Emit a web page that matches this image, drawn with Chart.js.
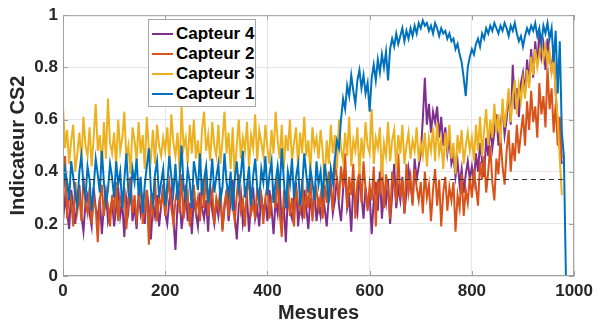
<!DOCTYPE html>
<html lang="fr">
<head>
<meta charset="utf-8">
<script src="https://cdn.jsdelivr.net/npm/chart.js@4.4.1/dist/chart.umd.min.js"></script>
<style>
    body { margin: 0; background: #fff; }
    #zone { position: relative; width: 598px; height: 329px; }
    #legende {
        position: absolute; left: 148px; top: 19px; width: 106px; height: 86px;
        border: 1px solid #a6a6a6; background: #fff;
        font: bold 17px "Liberation Sans", Arial, sans-serif; color: #000;
    }
    .item { position: absolute; left: 3px; height: 20px; line-height: 20px; white-space: nowrap; }
    .item span.trait { position: absolute; left: 0; top: 9px; width: 21px; height: 2px; }
    .item span.nom { position: absolute; left: 24px; top: 0; }
</style>
</head>
<body>
<div id="zone">
    <canvas id="graphique" width="598" height="329"></canvas>
    <div id="legende"></div>
</div>
<script>
const pasMesure = 4;

// Capteur 1 (bleu) - mesures 0 à 984
const capteur1 = [
    0.33, 0.41, 0.36, 0.29, 0.44, 0.38, 0.31, 0.27, 0.40, 0.46, 0.35, 0.30, 0.42, 0.37, 0.25, 0.34, 0.45, 0.39, 0.32, 0.48, 0.36, 0.28, 0.33, 0.43, 0.38,
    0.30, 0.44, 0.35, 0.40, 0.26, 0.37, 0.47, 0.32, 0.29, 0.41, 0.36, 0.45, 0.31, 0.38, 0.24, 0.35, 0.42, 0.49, 0.33, 0.28, 0.39, 0.44, 0.30, 0.36, 0.41,
    0.27, 0.35, 0.46, 0.38, 0.32, 0.43, 0.29, 0.37, 0.50, 0.34, 0.30, 0.41, 0.36, 0.26, 0.44, 0.39, 0.33, 0.47, 0.31, 0.37, 0.42, 0.28, 0.35, 0.45, 0.32,
    0.38, 0.43, 0.29, 0.34, 0.47, 0.36, 0.31, 0.40, 0.25, 0.37, 0.44, 0.33, 0.39, 0.48, 0.30, 0.35, 0.42, 0.27, 0.38, 0.45, 0.34, 0.29, 0.41, 0.36, 0.46,
    0.31, 0.39, 0.44, 0.28, 0.36, 0.42, 0.33, 0.49, 0.37, 0.26, 0.40, 0.35, 0.45, 0.30, 0.38, 0.43, 0.27, 0.34, 0.47, 0.39, 0.32, 0.41, 0.36, 0.29, 0.44,
    0.35, 0.40, 0.30, 0.43, 0.37, 0.28, 0.41, 0.36, 0.45, 0.52, 0.49, 0.60, 0.68, 0.64, 0.73, 0.69, 0.77, 0.71, 0.66, 0.75, 0.79, 0.72, 0.77, 0.70, 0.74,
    0.63, 0.76, 0.81, 0.75, 0.83, 0.78, 0.85, 0.80, 0.86, 0.75, 0.87, 0.91, 0.88, 0.93, 0.89, 0.92, 0.95, 0.90, 0.94, 0.91, 0.95, 0.92, 0.96, 0.93, 0.97,
    0.95, 0.98, 0.96, 0.97, 0.94, 0.96, 0.93, 0.97, 0.95, 0.92, 0.95, 0.93, 0.94, 0.91, 0.93, 0.90, 0.91, 0.87, 0.89, 0.85, 0.82, 0.76, 0.69, 0.80, 0.84,
    0.87, 0.85, 0.89, 0.91, 0.88, 0.93, 0.91, 0.95, 0.93, 0.96, 0.94, 0.97, 0.95, 0.93, 0.96, 0.94, 0.97, 0.95, 0.92, 0.96, 0.94, 0.97, 0.93, 0.90, 0.92,
    0.88, 0.92, 0.95, 0.93, 0.96, 0.94, 0.97, 0.92, 0.95, 0.89, 0.96, 0.93, 0.97, 0.91, 0.95, 0.82, 0.94, 0.70, 0.90, 0.55, 0.46, 0.00
];

// Capteur 2 (orange) - mesures 0 à 976
const capteur2 = [
    0.27, 0.46, 0.22, 0.33, 0.29, 0.19, 0.36, 0.25, 0.31, 0.21, 0.38, 0.28, 0.24, 0.34, 0.20, 0.30, 0.26, 0.13, 0.29, 0.35, 0.23, 0.32, 0.27, 0.19, 0.31,
    0.25, 0.36, 0.21, 0.30, 0.27, 0.34, 0.18, 0.29, 0.38, 0.24, 0.31, 0.22, 0.28, 0.35, 0.20, 0.26, 0.33, 0.12, 0.29, 0.24, 0.37, 0.21, 0.30, 0.27, 0.33,
    0.23, 0.31, 0.36, 0.26, 0.20, 0.29, 0.34, 0.24, 0.39, 0.22, 0.28, 0.32, 0.19, 0.27, 0.35, 0.25, 0.30, 0.21, 0.37, 0.26, 0.41, 0.23, 0.29, 0.33, 0.20,
    0.30, 0.26, 0.34, 0.17, 0.28, 0.32, 0.23, 0.37, 0.27, 0.21, 0.31, 0.39, 0.25, 0.29, 0.19, 0.33, 0.36, 0.24, 0.28, 0.22, 0.34, 0.27, 0.31, 0.20, 0.30,
    0.35, 0.22, 0.29, 0.33, 0.26, 0.38, 0.24, 0.15, 0.31, 0.27, 0.36, 0.23, 0.30, 0.19, 0.34, 0.28, 0.25, 0.37, 0.22, 0.32, 0.26, 0.39, 0.21, 0.29, 0.33,
    0.26, 0.31, 0.22, 0.35, 0.28, 0.40, 0.33, 0.25, 0.45, 0.37, 0.29, 0.42, 0.34, 0.47, 0.26, 0.38, 0.31, 0.43, 0.22, 0.36, 0.40, 0.28, 0.44, 0.33, 0.25,
    0.35, 0.29, 0.42, 0.19, 0.37, 0.31, 0.45, 0.26, 0.39, 0.33, 0.22, 0.40, 0.35, 0.28, 0.47, 0.30, 0.37, 0.24, 0.43, 0.32, 0.38, 0.27, 0.41, 0.34, 0.29,
    0.36, 0.24, 0.40, 0.30, 0.35, 0.21, 0.33, 0.41, 0.27, 0.37, 0.19, 0.32, 0.38, 0.25, 0.34, 0.29, 0.36, 0.17, 0.31, 0.26, 0.39, 0.23, 0.33, 0.28, 0.38,
    0.30, 0.41, 0.34, 0.27, 0.44, 0.37, 0.46, 0.32, 0.40, 0.50, 0.36, 0.29, 0.45, 0.39, 0.53, 0.42, 0.35, 0.48, 0.56, 0.40, 0.51, 0.44, 0.58, 0.47, 0.55,
    0.62, 0.50, 0.67, 0.56, 0.71, 0.59, 0.65, 0.53, 0.74, 0.62, 0.69, 0.57, 0.80, 0.64, 0.72, 0.55, 0.66, 0.50, 0.61, 0.45
];

// Capteur 3 (jaune) - mesures 0 à 976
const capteur3 = [
    0.65, 0.49, 0.56, 0.43, 0.52, 0.58, 0.40, 0.47, 0.55, 0.44, 0.61, 0.50, 0.46, 0.57, 0.42, 0.53, 0.66, 0.48, 0.54, 0.41, 0.59, 0.45, 0.68, 0.51, 0.47,
    0.55, 0.42, 0.60, 0.48, 0.53, 0.63, 0.45, 0.50, 0.39, 0.57, 0.52, 0.44, 0.59, 0.47, 0.54, 0.41, 0.61, 0.49, 0.45, 0.56, 0.43, 0.58, 0.50, 0.46, 0.53,
    0.48, 0.57, 0.44, 0.62, 0.51, 0.46, 0.55, 0.40, 0.65, 0.49, 0.53, 0.43, 0.58, 0.47, 0.60, 0.45, 0.52, 0.41, 0.56, 0.63, 0.48, 0.54, 0.44, 0.59, 0.50,
    0.46, 0.58, 0.43, 0.52, 0.63, 0.47, 0.55, 0.41, 0.57, 0.38, 0.50, 0.60, 0.45, 0.53, 0.48, 0.59, 0.42, 0.54, 0.49, 0.62, 0.44, 0.56, 0.51, 0.46, 0.58,
    0.49, 0.43, 0.56, 0.47, 0.63, 0.52, 0.45, 0.58, 0.41, 0.54, 0.48, 0.60, 0.44, 0.51, 0.57, 0.42, 0.55, 0.47, 0.61, 0.46, 0.52, 0.40, 0.57, 0.49, 0.53,
    0.45, 0.56, 0.48, 0.35, 0.52, 0.43, 0.58, 0.47, 0.54, 0.41, 0.60, 0.49, 0.44, 0.55, 0.46, 0.61, 0.42, 0.52, 0.48, 0.57, 0.39, 0.53, 0.45, 0.59, 0.50,
    0.47, 0.64, 0.43, 0.53, 0.49, 0.57, 0.38, 0.51, 0.46, 0.59, 0.44, 0.52, 0.56, 0.41, 0.54, 0.47, 0.58, 0.43, 0.50, 0.55, 0.45, 0.52, 0.48, 0.57, 0.44,
    0.51, 0.46, 0.55, 0.42, 0.53, 0.48, 0.57, 0.44, 0.59, 0.47, 0.52, 0.41, 0.55, 0.49, 0.58, 0.45, 0.51, 0.39, 0.54, 0.47, 0.56, 0.43, 0.50, 0.55, 0.48,
    0.53, 0.44, 0.58, 0.48, 0.61, 0.46, 0.56, 0.64, 0.50, 0.60, 0.53, 0.66, 0.55, 0.62, 0.51, 0.68, 0.57, 0.64, 0.72, 0.59, 0.69, 0.75, 0.62, 0.73, 0.67,
    0.75, 0.68, 0.79, 0.72, 0.84, 0.77, 0.87, 0.80, 0.85, 0.90, 0.83, 0.88, 0.81, 0.86, 0.78, 0.83, 0.70, 0.60, 0.45, 0.31
];

// Capteur 4 (violet) - mesures 0 à 976
const capteur4 = [
    0.21, 0.30, 0.25, 0.18, 0.33, 0.27, 0.20, 0.29, 0.35, 0.23, 0.17, 0.28, 0.31, 0.24, 0.19, 0.34, 0.26, 0.22, 0.30, 0.16, 0.27, 0.32, 0.21, 0.25, 0.29,
    0.19, 0.26, 0.34, 0.23, 0.28, 0.15, 0.30, 0.25, 0.36, 0.21, 0.27, 0.18, 0.32, 0.24, 0.29, 0.20, 0.33, 0.26, 0.14, 0.28, 0.23, 0.31, 0.19, 0.27, 0.35,
    0.24, 0.20, 0.29, 0.33, 0.22, 0.10, 0.27, 0.31, 0.18, 0.25, 0.35, 0.21, 0.28, 0.16, 0.30, 0.24, 0.19, 0.32, 0.26, 0.22, 0.29, 0.17, 0.34, 0.25, 0.20,
    0.28, 0.23, 0.31, 0.18, 0.26, 0.33, 0.21, 0.29, 0.37, 0.24, 0.14, 0.27, 0.32, 0.20, 0.25, 0.30, 0.17, 0.28, 0.34, 0.22, 0.26, 0.19, 0.31, 0.24, 0.29,
    0.21, 0.33, 0.26, 0.16, 0.29, 0.24, 0.35, 0.20, 0.27, 0.13, 0.31, 0.25, 0.22, 0.30, 0.36, 0.19, 0.28, 0.23, 0.33, 0.26, 0.18, 0.30, 0.24, 0.34, 0.21,
    0.28, 0.23, 0.32, 0.26, 0.19, 0.30, 0.35, 0.24, 0.29, 0.38, 0.27, 0.21, 0.33, 0.41, 0.26, 0.30, 0.17, 0.35, 0.28, 0.24, 0.39, 0.31, 0.22, 0.34, 0.27,
    0.31, 0.16, 0.29, 0.36, 0.25, 0.40, 0.22, 0.33, 0.28, 0.37, 0.20, 0.31, 0.43, 0.26, 0.34, 0.29, 0.38, 0.24, 0.32, 0.41, 0.35, 0.28, 0.45, 0.37, 0.42,
    0.47, 0.60, 0.76, 0.58, 0.66, 0.55, 0.63, 0.59, 0.65, 0.53, 0.61, 0.50, 0.57, 0.47, 0.53, 0.43, 0.46, 0.38, 0.44, 0.35, 0.41, 0.32, 0.39, 0.44, 0.37,
    0.42, 0.36, 0.47, 0.40, 0.51, 0.44, 0.38, 0.53, 0.46, 0.58, 0.49, 0.55, 0.62, 0.50, 0.57, 0.65, 0.54, 0.60, 0.70, 0.58, 0.81, 0.64, 0.72, 0.61, 0.74,
    0.78, 0.70, 0.83, 0.74, 0.87, 0.76, 0.90, 0.81, 0.93, 0.84, 0.89, 0.79, 0.91, 0.85, 0.78, 0.88, 0.70, 0.58, 0.49, 0.43
];

// ligne de seuil en pointillés
const seuil = 0.37;
const seuilDebut = 0;
const seuilFin = 980;

const ticksX = [0, 200, 400, 600, 800, 1000];
const ticksY = [0, 0.2, 0.4, 0.6, 0.8, 1];

// ordre de la légende (haut en bas), ordre = plan de dessin (1 = dessus)
const SERIES = [
    { nom: "Capteur 4", valeurs: capteur4, cor: "#7E2F8E", ordre: 4 },
    { nom: "Capteur 2", valeurs: capteur2, cor: "#D95319", ordre: 3 },
    { nom: "Capteur 3", valeurs: capteur3, cor: "#EDB120", ordre: 2 },
    { nom: "Capteur 1", valeurs: capteur1, cor: "#0072BD", ordre: 1 }
];

const police = '"Liberation Sans", Arial, sans-serif';

const datasets = SERIES.map(s => ({
    label: s.nom,
    data: s.valeurs.map((v, i) => ({ x: i * pasMesure, y: v })),
    borderColor: s.cor,
    borderWidth: 2,
    order: s.ordre
}));

datasets.push({
    label: 'seuil',
    data: [{ x: seuilDebut, y: seuil }, { x: seuilFin, y: seuil }],
    borderColor: '#333333',
    borderWidth: 1,
    borderDash: [5, 4],
    order: 0
});

// cadre + petites graduations intérieures façon MATLAB
const cadre = {
    id: 'cadre',
    afterDraw(chart) {
        const { ctx, chartArea: a, scales } = chart;
        ctx.save();
        ctx.strokeStyle = '#a0a0a0';
        ctx.lineWidth = 1;
        ctx.strokeRect(a.left + 0.5, a.top + 0.5, a.right - a.left - 1, a.bottom - a.top - 1);
        ctx.beginPath();
        ticksX.forEach(t => {
            const x = Math.round(scales.x.getPixelForValue(t)) + 0.5;
            ctx.moveTo(x, a.bottom); ctx.lineTo(x, a.bottom - 5);
            ctx.moveTo(x, a.top); ctx.lineTo(x, a.top + 5);
        });
        ticksY.forEach(t => {
            const y = Math.round(scales.y.getPixelForValue(t)) + 0.5;
            ctx.moveTo(a.left, y); ctx.lineTo(a.left + 5, y);
            ctx.moveTo(a.right, y); ctx.lineTo(a.right - 5, y);
        });
        ctx.stroke();
        ctx.restore();
    }
};

new Chart(document.getElementById('graphique').getContext('2d'), {
    type: 'line',
    data: { datasets },
    options: {
        responsive: false,
        animation: false,
        layout: { padding: { top: 15, right: 21, left: 0, bottom: 0 } },
        elements: { point: { radius: 0 }, line: { tension: 0 } },
        plugins: { legend: { display: false }, tooltip: { enabled: false } },
        scales: {
            x: {
                type: 'linear', min: 0, max: 1000,
                afterBuildTicks: s => { s.ticks = ticksX.map(v => ({ value: v })); },
                afterFit: s => { s.height = 53; },
                ticks: { padding: 5, maxRotation: 0, color: '#262626', font: { family: police, size: 17, weight: 'bold' },
                         callback: v => String(v) },
                grid: { color: '#e6e6e6', drawTicks: false },
                border: { display: false },
                title: { display: true, text: 'Mesures', color: '#262626', padding: { bottom: 4 },
                         font: { family: police, size: 20, weight: 'bold' } }
            },
            y: {
                min: 0, max: 1,
                afterBuildTicks: s => { s.ticks = ticksY.map(v => ({ value: v })); },
                afterFit: s => { s.width = 63; },
                ticks: { padding: 5, color: '#262626', font: { family: police, size: 17, weight: 'bold' },
                         callback: v => String(Math.round(v * 10) / 10) },
                grid: { color: '#e6e6e6', drawTicks: false },
                border: { display: false },
                title: { display: true, text: 'Indicateur CS2', color: '#262626', padding: { top: 6 },
                         font: { family: police, size: 20, weight: 'bold' } }
            }
        }
    },
    plugins: [cadre]
});

// légende HTML placée dans la zone du graphique
const legende = document.getElementById('legende');
SERIES.forEach((s, i) => {
    const item = document.createElement('div');
    item.className = 'item';
    item.style.top = (4 + i * 20) + 'px';
    item.innerHTML = `<span class="trait" style="background:${s.cor}"></span><span class="nom">${s.nom}</span>`;
    legende.appendChild(item);
});
</script>
</body>
</html>
